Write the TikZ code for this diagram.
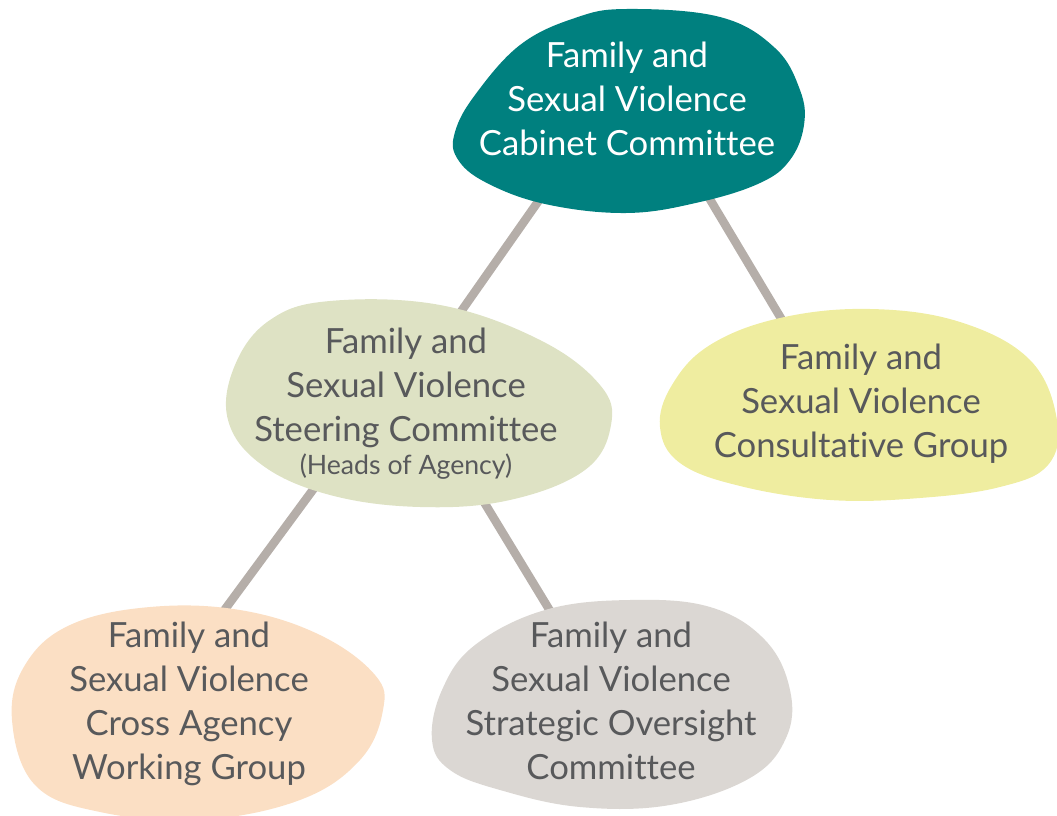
\documentclass[tikz,border=0pt]{standalone}
\usepackage{fontspec}
\setmainfont[Ligatures=NoCommon]{Lato}
\usetikzlibrary{calc}
\definecolor{cabteal}{HTML}{00807F}
\definecolor{steergreen}{HTML}{DEE2C4}
\definecolor{consultyellow}{HTML}{EFEDA0}
\definecolor{crosspeach}{HTML}{FBDFC4}
\definecolor{stratgrey}{HTML}{DBD7D3}
\definecolor{linkgrey}{HTML}{B5AEA9}
\definecolor{txtgrey}{HTML}{58595B}
\pgfdeclarelayer{links}
\pgfdeclarelayer{blobs}
\pgfsetlayers{links,blobs,main}

\begin{document}
\begin{tikzpicture}[
    x=0.75pt,y=-0.75pt,
    txt/.style={align=center,text=txtgrey,font=\fontsize{26}{33}\selectfont},
    blob/.style={smooth cycle,tension=0.65},
    link/.style={draw=linkgrey,line width=6.4pt}
  ]
    \useasboundingbox (0,0) rectangle (1057,816);

    % Level 1: cabinet
    \node[txt,text=white] (cab) at (627,99) {Family and\\Sexual Violence\\Cabinet Committee};

    % Level 2: steering + consultative
    \node[txt] (steer) at (406,404) {Family and\\Sexual Violence\\Steering Committee\\[-8pt]{\fontsize{20}{20}\selectfont (Heads of Agency)}};
    \node[txt] (consult) at (861,404) {Family and\\Sexual Violence\\Consultative Group};

    % Level 3: working groups
    \node[txt] (cross) at (189,704) {Family and\\Sexual Violence\\Cross Agency\\Working Group};
    \node[txt] (strat) at (611,701) {Family and\\Sexual Violence\\Strategic Oversight\\Committee};

    % Blobs
    \begin{pgfonlayer}{blobs}
      \fill[cabteal] plot[blob] coordinates {(627,9) (720,17) (775,48) (800,90) (804,125) (790,160) (760,183) (700,202) (627,213) (545,204) (485,182) (457,158) (455,132) (475,95) (520,45) (575,18)};
      \fill[steergreen] plot[blob] coordinates {(330,301) (440,305) (540,340) (600,385) (611,425) (585,470) (510,500) (420,507) (330,495) (262,465) (228,420) (235,365) (270,320)};
      \fill[consultyellow] plot[blob] coordinates {(660,427) (672,385) (710,345) (780,318) (870,309) (960,322) (1030,360) (1057,420) (1048,465) (1000,487) (920,498) (830,500) (740,486) (680,463)};
      \fill[crosspeach] plot[blob] coordinates {(12,720) (25,665) (70,625) (150,607) (240,610) (320,635) (375,675) (383,710) (360,760) (300,800) (200,820) (100,812) (35,785)};
      \fill[stratgrey] plot[blob] coordinates {(432,740) (442,690) (475,645) (545,610) (630,600) (710,607) (765,640) (790,690) (786,738) (750,778) (670,805) (580,807) (500,790) (450,770)};
    \end{pgfonlayer}

    % Links
    \begin{pgfonlayer}{links}
      \draw[link] ($(cab)+(-17,0)$) -- ($(steer)+(-7,-4)$);
      \draw[link] ($(cab)+(23,0)$) -- ($(consult)+(-30,-2)$);
      \draw[link] ($(steer)+(-27,-4)$) -- ($(cross)+(-33,-1)$);
      \draw[link] ($(steer)+(16,-4)$) -- ($(strat)+(-5,2)$);
    \end{pgfonlayer}
  \end{tikzpicture}
\end{document}
